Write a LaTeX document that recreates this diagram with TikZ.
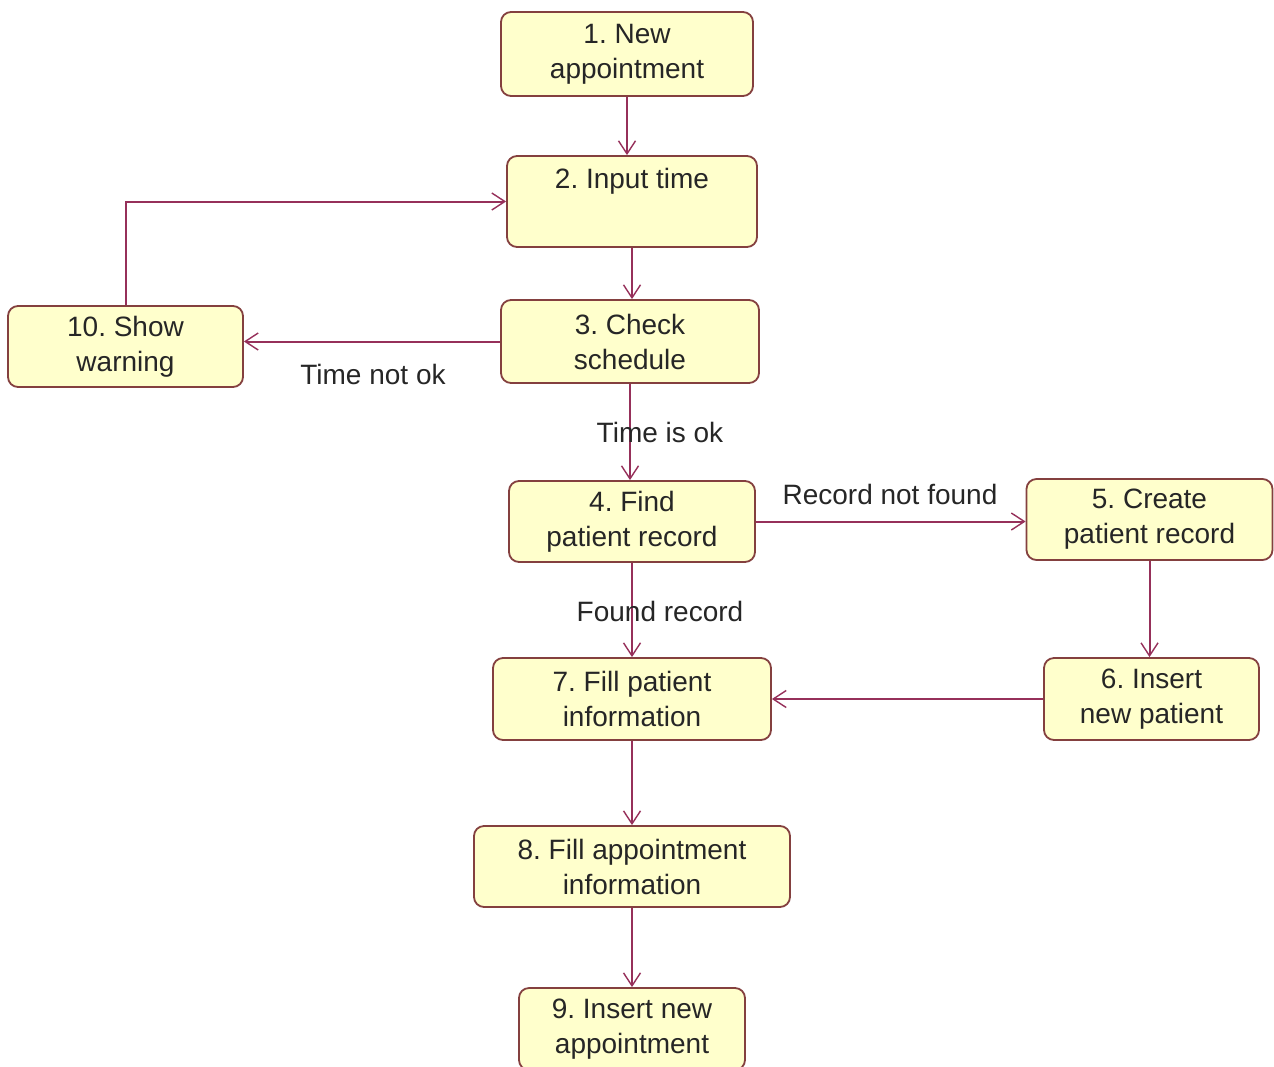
\documentclass[tikz,border=0pt]{standalone}
\usepackage{fontspec}
\setmainfont{Liberation Sans}
\usetikzlibrary{arrows.meta}
\definecolor{boxfill}{HTML}{FFFFCC}
\definecolor{boxedge}{HTML}{84403F}
\definecolor{flow}{HTML}{96305A}
\frenchspacing
\begin{document}
\begin{tikzpicture}[x=1pt,y=-1pt,
  state/.style={draw=boxedge, line width=1.8pt, fill=boxfill, rounded corners=10pt,
    align=center, inner sep=0pt, font=\fontsize{28}{35}\selectfont, text=black!85},
  flowline/.style={draw=flow, line width=2pt,
    -{Straight Barb[length=13pt,width=17pt,line width=1.4pt]}},
  tag/.style={font=\fontsize{28}{35}\selectfont, text=black!85, inner sep=0pt}]
\useasboundingbox (0,0) rectangle (1274,1066);

% activity states
\node[state, minimum width=252pt, minimum height=84pt] (n1) at (627,54) {1. New\\appointment};
\node[state, minimum width=250pt, minimum height=91pt] (n2) at (632,201.5) {2. Input time\\\strut};
\node[state, minimum width=258pt, minimum height=83pt] (n3) at (630,341.5) {3. Check\\schedule};
\node[state, minimum width=235pt, minimum height=81pt] (n10) at (125.5,346.5) {10. Show\\warning};
\node[state, minimum width=246pt, minimum height=81pt] (n4) at (632,521.5) {4. Find\\patient record};
\node[state, minimum width=246pt, minimum height=81pt] (n5) at (1149.5,519.5) {5. Create\\patient record};
\node[state, minimum width=215pt, minimum height=82pt] (n6) at (1151.5,699) {6. Insert\\new patient};
\node[state, minimum width=278pt, minimum height=82pt] (n7) at (632,699) {7. Fill patient\\information};
\node[state, minimum width=316pt, minimum height=81pt] (n8) at (632,866.5) {8. Fill appointment\\information};
\node[state, minimum width=226pt, minimum height=82pt] (n9) at (632,1029) {9. Insert new\\appointment};

% transitions
\draw[flowline] (n1.south) -- (n1.south |- n2.north);
\draw[flowline] (n2.south) -- (n2.south |- n3.north);
\draw[flowline] (n3.west) -- (n3.west -| n10.east);
\draw[flowline] (n10.north) |- (n2.west);
\draw[flowline] (n3.south) -- (n3.south |- n4.north);
\draw[flowline] (n4.east) -- (n4.east -| n5.west);
\draw[flowline] (n5.south) -- (n5.south |- n6.north);
\draw[flowline] (n6.west) -- (n7.east);
\draw[flowline] (n4.south) -- (n7.north);
\draw[flowline] (n7.south) -- (n8.north);
\draw[flowline] (n8.south) -- (n9.north);

% guard labels
\node[tag] (g1) at (373,374) {Time not ok};
\node[tag] (g2) at (660,432) {Time is ok};
\node[tag] (g3) at (890,494) {Record not found};
\node[tag] (g4) at (660,611) {Found record};
\end{tikzpicture}
\end{document}
